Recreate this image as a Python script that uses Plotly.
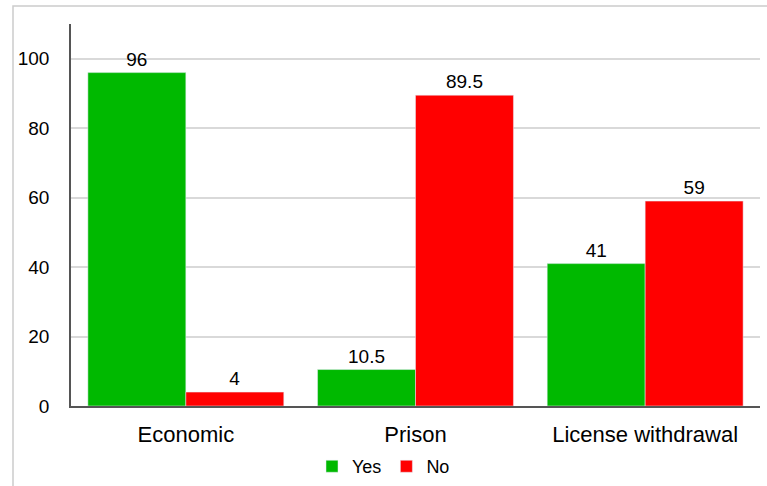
import plotly.graph_objects as go

categories = ["Economic", "Prison", "License withdrawal"]
yes_values = [96, 10.5, 41]
no_values = [4, 89.5, 59]
yes_labels = ["96", "10.5", "41"]
no_labels = ["4", "89.5", "59"]

L, R, T, B = 71, 7, 24, 80
W, H = 767, 486
pw, ph = W - L - R, H - T - B

fig = go.Figure()
fig.add_trace(go.Bar(name="Yes", x=categories, y=yes_values, text=yes_labels,
                     textposition="outside", marker_color="#00B900",
                     textfont=dict(size=19, color="black"), cliponaxis=False))
fig.add_trace(go.Bar(name="No", x=categories, y=no_values, text=no_labels,
                     textposition="outside", marker_color="#FF0000",
                     textfont=dict(size=19, color="black"), cliponaxis=False))

fig.update_layout(
    width=W, height=H,
    margin=dict(l=L, r=R, t=T, b=B, autoexpand=False),
    barmode="group", bargap=0.147, bargroupgap=0,
    plot_bgcolor="white", paper_bgcolor="white",
    font=dict(family="Liberation Sans, Arial, sans-serif", color="black"),
    legend=dict(orientation="h", x=0.5, xanchor="center", xref="container",
                y=0.04, yanchor="middle", yref="container",
                font=dict(size=18), itemwidth=30, traceorder="normal",
                bgcolor="rgba(0,0,0,0)"),
    uniformtext=dict(mode=False),
)
fig.update_yaxes(range=[0, 110], tickvals=[0, 20, 40, 60, 80, 100],
                 showgrid=True, gridcolor="#d9d9d9", gridwidth=1.5,
                 showline=True, linecolor="#555555", linewidth=1.5,
                 tickfont=dict(size=19), ticklabelstandoff=16, zeroline=False,
                 automargin=False)
fig.update_xaxes(showline=True, linecolor="#555555", linewidth=1.5,
                 tickfont=dict(size=22), ticks="", ticklabelstandoff=8,
                 automargin=False)

# outer frame
fig.add_shape(type="rect", xref="paper", yref="paper",
              x0=(13 - L) / pw, x1=(W + 20 - L) / pw,
              y0=-(H + 20 - (H - B)) / ph, y1=((H - B) - 6) / ph,
              line=dict(color="#cccccc", width=1.5), layer="below")

fig.write_html("out.html")
